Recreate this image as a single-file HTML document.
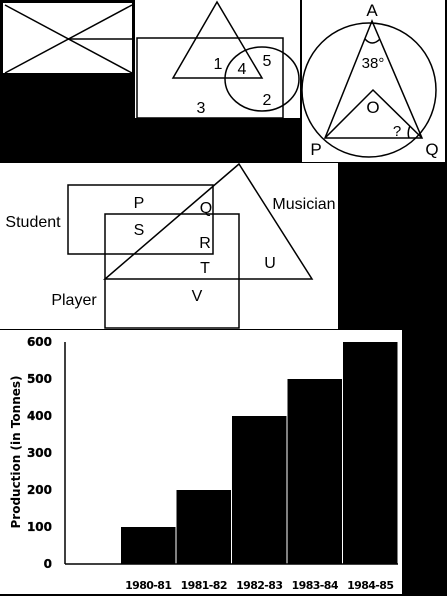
<!DOCTYPE html>
<html><head><meta charset="utf-8"><style>
html,body{margin:0;padding:0;background:#000;}
svg{display:block;}
text{font-family:"Liberation Sans",Arial,sans-serif;fill:#000;}
.b{font-family:"DejaVu Sans","Liberation Sans",sans-serif;font-weight:bold;font-size:12px;}
.xl{font-family:"DejaVu Sans","Liberation Sans",sans-serif;font-weight:bold;font-size:11px;letter-spacing:-0.6px;}
</style></head><body>
<svg width="447" height="596" viewBox="0 0 447 596">
<rect x="0" y="0" width="447" height="596" fill="#000"/>
<g>
<rect x="3" y="3" width="129" height="70" fill="#fff"/>
<line x1="5" y1="5" x2="132" y2="73" stroke="#000" stroke-width="1.5"/>
<line x1="5" y1="73" x2="132" y2="5" stroke="#000" stroke-width="1.5"/>
<line x1="68" y1="39" x2="137" y2="39" stroke="#000" stroke-width="1.5"/>
</g>
<g fill="none" stroke="#000" stroke-width="1.5">
<rect x="135" y="0" width="165" height="118" fill="#fff" stroke="none"/>
<rect x="137" y="38" width="146" height="80"/>
<polygon points="217,2 173,78 262,78"/>
<ellipse cx="262" cy="79" rx="37" ry="32"/>
</g>
<g font-size="16" text-anchor="middle">
<text x="218" y="69">1</text><text x="242" y="74">4</text><text x="267" y="66">5</text><text x="267" y="105">2</text><text x="201" y="113">3</text>
</g>
<g fill="none" stroke="#000" stroke-width="1.5">
<rect x="302" y="0" width="143" height="162" fill="#fff" stroke="none"/>
<circle cx="369" cy="90" r="67"/>
<polygon points="372,21 325,138 422,138"/>
<polyline points="325,138 373,90 422,138"/>
<path d="M365,39 Q372,47 380,39"/>
<path d="M410,126 Q407,132 409,138"/>
</g>
<g font-size="17" text-anchor="middle">
<text x="372" y="16">A</text><text x="316" y="155">P</text><text x="432" y="155">Q</text><text x="373" y="113">O</text>
<text x="373" y="68" font-size="15">38°</text><text x="397" y="136" font-size="15">?</text>
</g>
<g fill="none" stroke="#000" stroke-width="1.5">
<rect x="0" y="163" width="338" height="166" fill="#fff" stroke="none"/>
<rect x="68" y="185" width="145" height="69"/>
<rect x="105" y="214" width="134" height="114"/>
<polygon points="239,164 105,279 312,279"/>
</g>
<g font-size="16" text-anchor="middle">
<text x="33" y="227">Student</text><text x="304" y="209">Musician</text><text x="74" y="305">Player</text>
<text x="139" y="208">P</text><text x="206" y="213">Q</text><text x="139" y="235">S</text><text x="205" y="248">R</text>
<text x="205" y="273">T</text><text x="270" y="268">U</text><text x="197" y="301">V</text>
</g>
<rect x="0" y="330" width="402" height="264" fill="#fff"/>
<g id="chart"></g>
<text class="b" transform="translate(20,452) rotate(-90)" text-anchor="middle" font-size="12">Production (in Tonnes)</text>
</svg>
<script>
const categories=["","1980-81","1981-82","1982-83","1983-84","1984-85"];
const values=[0,100,200,400,500,600];
const yTicks=[0,100,200,300,400,500,600];
const NS="http://www.w3.org/2000/svg";
const g=document.getElementById('chart');
const x0=65,x1=398,y0=564,y1=342,yMax=600;
const bw=(x1-x0)/categories.length;
function yScale(v){return y0-(v/yMax)*(y0-y1);}
function xScale(i){return x0+i*bw;}
function mk(t,a){const e=document.createElementNS(NS,t);for(const k in a)e.setAttribute(k,a[k]);g.appendChild(e);return e;}
categories.forEach((c,i)=>{
  if(values[i]>0){
    const r=mk('rect',{x:xScale(i)+0.5,y:yScale(values[i]),width:bw-1,height:y0-yScale(values[i]),fill:'#000'});
    
    
  }
  if(c){
    const t=mk('text',{x:xScale(i)+bw/2,y:589,'text-anchor':'middle',class:'xl'});
    t.textContent=c;
    
    
  }
});
yTicks.forEach(v=>{
  const t=mk('text',{x:52,y:yScale(v)+4,'text-anchor':'end',class:'b','stroke':'#000','stroke-width':0.3});
  t.textContent=v;
  
  
});
const ya=mk('line',{x1:x0,y1:y1,x2:x0,y2:y0,stroke:'#000','stroke-width':1.5});


const xa=mk('line',{x1:x0,y1:y0,x2:x1,y2:y0,stroke:'#000','stroke-width':1.5});


</script>
</body></html>
